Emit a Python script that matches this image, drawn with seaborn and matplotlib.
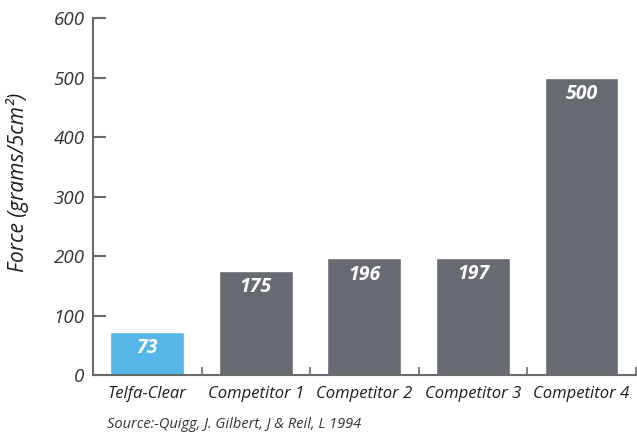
import matplotlib
matplotlib.use("Agg")
import matplotlib.pyplot as plt
import seaborn as sns
import pandas as pd

# Chart data
products = ["Telfa-Clear", "Competitor 1", "Competitor 2", "Competitor 3", "Competitor 4"]
force = [73, 175, 196, 197, 500]
y_ticks = [0, 100, 200, 300, 400, 500, 600]
bar_colors = ["#55B6E7", "#686A71", "#686A71", "#686A71", "#686A71"]


def main():
    df = pd.DataFrame({"product": products, "force": force})

    sns.set_style("white")
    plt.rcParams["font.family"] = ["Open Sans", "DejaVu Sans"]

    fig = plt.figure(figsize=(6.37, 4.33), dpi=100)
    ax = fig.add_axes([0.146, 0.134, 0.852, 0.824])

    sns.barplot(
        data=df, x="product", y="force", hue="product",
        palette=dict(zip(products, bar_colors)), legend=False,
        width=0.68, saturation=1, ax=ax,
    )

    # value labels inside the bars
    for i, v in enumerate(force):
        ax.text(i, v - 11, str(v), ha="center", va="top", color="white",
                fontsize=14, fontweight="bold", fontstyle="italic")

    ax.set_ylim(0, 600)
    ax.set_xlim(-0.5, 4.5)
    ax.set_yticks(y_ticks)
    ax.set_yticklabels([str(t) for t in y_ticks], fontsize=13.5,
                       fontstyle="italic", color="#333333")

    # boundary ticks between categories, labels centered on bars
    ax.set_xticks([0.5, 1.5, 2.5, 3.5, 4.5])
    ax.set_xticklabels([])
    ax.set_xticks(range(len(products)), minor=True)
    ax.set_xticklabels(products, minor=True, fontsize=12, fontstyle="italic",
                       fontweight="medium", color="#1e1e1e")
    ax.tick_params(axis="x", which="major", direction="in", length=6,
                   width=1.2, color="#6b6b6b", bottom=True)
    ax.tick_params(axis="x", which="minor", length=0, pad=8, bottom=True)
    ax.tick_params(axis="y", direction="in", length=9.5, width=1.5,
                   color="#6b6b6b", pad=6, left=True)

    ax.set_xlabel("")
    ax.set_ylabel("Force (grams/5cm²)", fontsize=15, fontstyle="italic",
                  color="#1e1e1e")
    ax.yaxis.set_label_coords(-0.118, 0.54)

    for side in ["top", "right"]:
        ax.spines[side].set_visible(False)
    for side in ["left", "bottom"]:
        ax.spines[side].set_color("#6b6b6b")
        ax.spines[side].set_linewidth(1.5)

    fig.text(107 / 637, 1 - 425 / 433, "Source:-Quigg, J. Gilbert, J & Reil, L 1994",
             fontsize=10.5, fontstyle="italic", color="#333333", va="center")

    fig.savefig("out.png", dpi=100)


if __name__ == "__main__":
    main()
